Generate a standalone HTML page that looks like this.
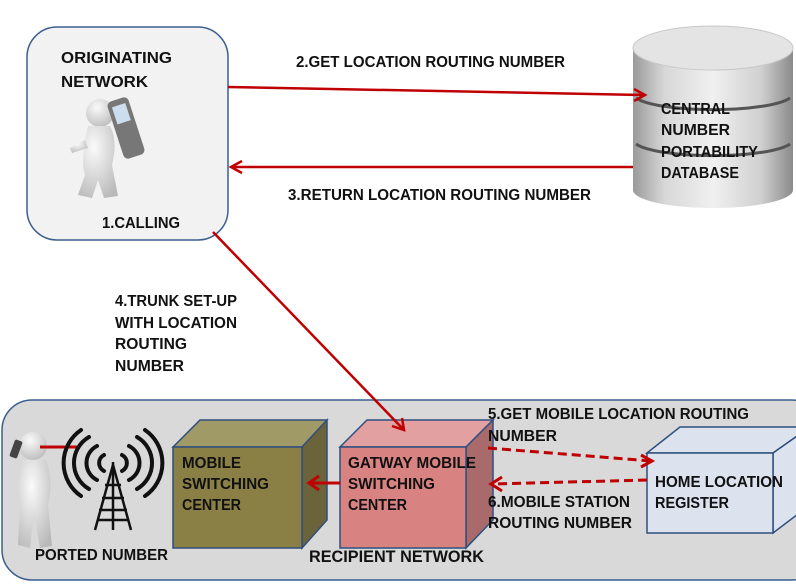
<!DOCTYPE html>
<html><head><meta charset="utf-8"><style>
html,body{margin:0;padding:0;background:#fff;}
svg{display:block;}
text{font-family:"Liberation Sans",sans-serif;font-weight:bold;font-size:16px;fill:#111;}
</style></head><body>
<svg width="796" height="585" viewBox="0 0 796 585" xmlns="http://www.w3.org/2000/svg">
<defs>
<linearGradient id="cyl" x1="0" x2="1" y1="0" y2="0">
<stop offset="0" stop-color="#9a9a9a"/><stop offset="0.2" stop-color="#d8d8d8"/><stop offset="0.5" stop-color="#f0f0f0"/><stop offset="0.8" stop-color="#d0d0d0"/><stop offset="1" stop-color="#8a8a8a"/>
</linearGradient>
<radialGradient id="per" cx="0.4" cy="0.3" r="0.8"><stop offset="0" stop-color="#fafafa"/><stop offset="1" stop-color="#b8b8b8"/></radialGradient>
</defs>
<!-- originating box -->
<rect x="27" y="27" width="201" height="213" rx="30" fill="#f2f2f2" stroke="#3a5f8f" stroke-width="1.5"/>
<text x="61" y="63" textLength="111" lengthAdjust="spacingAndGlyphs">ORIGINATING</text>
<text x="61" y="87" textLength="87" lengthAdjust="spacingAndGlyphs">NETWORK</text>
<!-- person with phone -->
<g>
<circle cx="100" cy="113" r="14" fill="url(#per)"/>
<path d="M88 126 Q80 160 85 175 L78 195 L92 198 L98 180 L104 198 L118 196 L112 165 Q118 140 110 126 Z" fill="url(#per)"/>
<path d="M85 140 L70 148 L72 153 L88 148 Z" fill="url(#per)"/>
<rect x="115" y="98" width="22" height="60" rx="5" fill="#777" transform="rotate(-18 126 128)"/>
<rect x="119" y="104" width="14" height="18" fill="#cde" transform="rotate(-18 126 128)"/>
</g>
<text x="102" y="228" textLength="78" lengthAdjust="spacingAndGlyphs">1.CALLING</text>
<!-- cylinder -->
<path d="M633 48 L633 190 A80 18 0 0 0 793 190 L793 48 Z" fill="url(#cyl)"/>
<ellipse cx="713" cy="48" rx="80" ry="22" fill="#e4e4e4" stroke="#c8c8c8"/>
<path d="M636 98 A80 16 0 0 0 790 98" fill="none" stroke="#555" stroke-width="3"/>
<path d="M636 144 A80 16 0 0 0 790 144" fill="none" stroke="#555" stroke-width="3"/>
<text x="661" y="114" textLength="69" lengthAdjust="spacingAndGlyphs">CENTRAL</text>
<text x="661" y="135" textLength="69" lengthAdjust="spacingAndGlyphs">NUMBER</text>
<text x="661" y="157" textLength="97" lengthAdjust="spacingAndGlyphs">PORTABILITY</text>
<text x="661" y="178" textLength="78" lengthAdjust="spacingAndGlyphs">DATABASE</text>
<!-- arrows top -->
<g stroke="#c00000" stroke-width="2.5" fill="none">
<line x1="228" y1="87" x2="645" y2="95"/>
<polyline points="634,89 645,95 634,101"/>
<line x1="633" y1="167" x2="231" y2="167"/>
<polyline points="242,161 231,167 242,173"/>
</g>
<text x="296" y="67" textLength="269" lengthAdjust="spacingAndGlyphs">2.GET LOCATION ROUTING NUMBER</text>
<text x="288" y="200" textLength="303" lengthAdjust="spacingAndGlyphs">3.RETURN LOCATION ROUTING NUMBER</text>
<text x="115" y="306" textLength="122" lengthAdjust="spacingAndGlyphs">4.TRUNK SET-UP</text>
<text x="115" y="328" textLength="122" lengthAdjust="spacingAndGlyphs">WITH LOCATION</text>
<text x="115" y="349" textLength="72" lengthAdjust="spacingAndGlyphs">ROUTING</text>
<text x="115" y="371" textLength="69" lengthAdjust="spacingAndGlyphs">NUMBER</text>
<!-- recipient box -->
<rect x="2" y="400" width="820" height="180" rx="30" fill="#d9d9d9" stroke="#3a5f8f" stroke-width="1.5"/>
<!-- ported person -->
<g>
<circle cx="33" cy="446" r="14" fill="url(#per)"/>
<path d="M22 460 Q16 490 20 505 L18 545 L30 548 L34 512 L40 548 L52 546 L48 505 Q54 480 46 460 Z" fill="url(#per)"/>
<rect x="12" y="440" width="8" height="18" rx="2" fill="#444" transform="rotate(20 16 449)"/>
</g>
<line x1="40" y1="447" x2="80" y2="447" stroke="#c00000" stroke-width="3"/>
<!-- tower -->
<g stroke="#111" stroke-width="4" fill="none" stroke-linecap="round">
<path d="M104 455 A9 9 0 0 0 104 471"/><path d="M122 455 A9 9 0 0 1 122 471"/>
<path d="M97 446 A19 19 0 0 0 97 480"/><path d="M129 446 A19 19 0 0 1 129 480"/>
<path d="M89 437 A30 30 0 0 0 89 489"/><path d="M137 437 A30 30 0 0 1 137 489"/>
<path d="M81 430 A40 40 0 0 0 81 496"/><path d="M145 430 A40 40 0 0 1 145 496"/>
</g>
<g stroke="#111" stroke-width="2.5" fill="none">
<line x1="113" y1="462" x2="113" y2="530"/>
<line x1="113" y1="465" x2="95" y2="530"/><line x1="113" y1="465" x2="131" y2="530"/>
<line x1="105" y1="485" x2="121" y2="485"/><line x1="102" y1="498" x2="124" y2="498"/><line x1="99" y1="510" x2="127" y2="510"/><line x1="97" y1="520" x2="129" y2="520"/>
</g>
<text x="35" y="560" textLength="133" lengthAdjust="spacingAndGlyphs">PORTED NUMBER</text>
<!-- MSC cube -->
<polygon points="173,447 200,420 327,420 302,447" fill="#a09a66" stroke="#2f4f7f" stroke-width="1.5"/>
<polygon points="302,447 327,420 327,520 302,548" fill="#6b6339" stroke="#2f4f7f" stroke-width="1.5"/>
<rect x="173" y="447" width="129" height="101" fill="#8a7f45" stroke="#2f4f7f" stroke-width="1.5"/>
<text x="182" y="468" textLength="59" lengthAdjust="spacingAndGlyphs">MOBILE</text>
<text x="182" y="489" textLength="87" lengthAdjust="spacingAndGlyphs">SWITCHING</text>
<text x="182" y="510" textLength="59" lengthAdjust="spacingAndGlyphs">CENTER</text>
<!-- GMSC cube -->
<polygon points="340,447 367,420 493,420 466,447" fill="#e3a0a0" stroke="#2f4f7f" stroke-width="1.5"/>
<polygon points="466,447 493,420 493,520 466,548" fill="#a86a6a" stroke="#2f4f7f" stroke-width="1.5"/>
<rect x="340" y="447" width="126" height="101" fill="#d98282" stroke="#2f4f7f" stroke-width="1.5"/>
<text x="348" y="468" textLength="128" lengthAdjust="spacingAndGlyphs">GATWAY MOBILE</text>
<text x="348" y="489" textLength="87" lengthAdjust="spacingAndGlyphs">SWITCHING</text>
<text x="348" y="510" textLength="59" lengthAdjust="spacingAndGlyphs">CENTER</text>
<g stroke="#c00000" stroke-width="3" fill="none">
<line x1="340" y1="483" x2="310" y2="483"/>
<polyline points="319,476 309,483 319,490"/>
</g>
<!-- trunk arrow on top -->
<g stroke="#c00000" stroke-width="2.5" fill="none">
<line x1="213" y1="232" x2="404" y2="430"/>
<polyline points="392,426 404,430 402,418"/>
</g>
<!-- HLR cube -->
<polygon points="647,453 680,427 810,427 773,453" fill="#dce3ef" stroke="#2f4f7f" stroke-width="1.5"/>
<polygon points="773,453 810,427 810,505 773,533" fill="#dce3ef" stroke="#2f4f7f" stroke-width="1.5"/>
<rect x="647" y="453" width="126" height="80" fill="#dce3ef" stroke="#2f4f7f" stroke-width="1.5"/>
<text x="655" y="487" textLength="128" lengthAdjust="spacingAndGlyphs">HOME LOCATION</text>
<text x="655" y="508" textLength="74" lengthAdjust="spacingAndGlyphs">REGISTER</text>
<!-- dashed arrows -->
<g stroke="#c00000" stroke-width="3" fill="none">
<line x1="488" y1="448" x2="651" y2="461" stroke-dasharray="9,5"/>
<polyline points="641,455 652,461 641,467"/>
<line x1="647" y1="480" x2="492" y2="484" stroke-dasharray="9,5"/>
<polyline points="502,477 491,484 502,491"/>
</g>
<text x="488" y="419" textLength="261" lengthAdjust="spacingAndGlyphs">5.GET MOBILE LOCATION ROUTING</text>
<text x="488" y="441" textLength="69" lengthAdjust="spacingAndGlyphs">NUMBER</text>
<text x="488" y="507" textLength="142" lengthAdjust="spacingAndGlyphs">6.MOBILE STATION</text>
<text x="488" y="528" textLength="144" lengthAdjust="spacingAndGlyphs">ROUTING NUMBER</text>
<text x="309" y="562" style="font-size:17px" textLength="175" lengthAdjust="spacingAndGlyphs">RECIPIENT NETWORK</text>
</svg>
</body></html>
